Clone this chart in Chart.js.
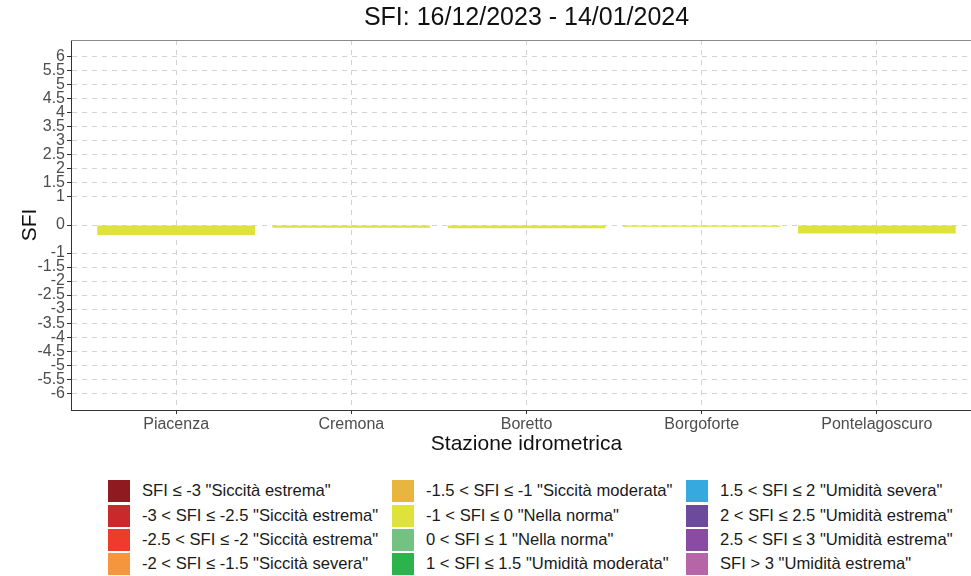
<!DOCTYPE html>
<html><head><meta charset="utf-8">
<script src="https://cdn.jsdelivr.net/npm/chart.js@4"></script>
<style>
html,body{margin:0;padding:0;background:#fff;overflow:hidden;width:971px;height:576px;}
#wrap{position:absolute;left:0;top:0;width:982px;height:462px;}
#legend{position:absolute;left:108px;top:479px;display:grid;grid-auto-flow:column;grid-template-rows:repeat(4,24.4px);grid-template-columns:284px 294px 270px;font-family:"Liberation Sans",Arial,sans-serif;font-size:16.6px;color:#1a1a1a;}
.item{display:flex;align-items:center;white-space:nowrap;}
.sw{width:22px;height:22px;margin-right:12px;flex:none;}
</style></head><body>
<div id="wrap"><canvas id="c" width="982" height="462"></canvas></div>
<div id="legend"></div>
<script>
const titleText = 'SFI: 16/12/2023 - 14/01/2024';
const xAxisTitle = 'Stazione idrometrica';
const yAxisTitle = 'SFI';
const stations = ['Piacenza', 'Cremona', 'Boretto', 'Borgoforte', 'Pontelagoscuro'];
const sfiValues = [-0.36, -0.10, -0.12, -0.06, -0.30];
const yTickValues = [6, 5.5, 5, 4.5, 4, 3.5, 3, 2.5, 2, 1.5, 1, 0, -1, -1.5, -2, -2.5, -3, -3.5, -4, -4.5, -5, -5.5, -6];
const classUpper = [-3, -2.5, -2, -1.5, -1, 0, 1, 1.5, 2, 2.5, 3, Infinity];
const classLabels = [
  'SFI ≤ -3 "Siccità estrema"',
  '-3 < SFI ≤ -2.5 "Siccità estrema"',
  '-2.5 < SFI ≤ -2 "Siccità estrema"',
  '-2 < SFI ≤ -1.5 "Siccità severa"',
  '-1.5 < SFI ≤ -1 "Siccità moderata"',
  '-1 < SFI ≤ 0 "Nella norma"',
  '0 < SFI ≤ 1 "Nella norma"',
  '1 < SFI ≤ 1.5 "Umidità moderata"',
  '1.5 < SFI ≤ 2 "Umidità severa"',
  '2 < SFI ≤ 2.5 "Umidità estrema"',
  '2.5 < SFI ≤ 3 "Umidità estrema"',
  'SFI > 3 "Umidità estrema"'
];
const classColors = ['#8f1a1f', '#c9292b', '#ee3c2c', '#f5963f', '#e8b53f', '#dfe23a', '#74c282', '#2db34b', '#36a9df', '#6c4b9c', '#8a4ba2', '#b565a8'];

const FONT = '"Liberation Sans", Arial, sans-serif';
Chart.defaults.font.family = FONT;

function classOf(v) { return classUpper.findIndex(u => v <= u); }

const legendEl = document.getElementById('legend');
classLabels.forEach((lab, i) => {
  const it = document.createElement('div'); it.className = 'item';
  const sw = document.createElement('span'); sw.className = 'sw'; sw.style.background = classColors[i];
  const tx = document.createElement('span'); tx.textContent = lab;
  it.appendChild(sw); it.appendChild(tx); legendEl.appendChild(it);
});

const panelBorder = {
  id: 'panelBorder',
  afterDraw(chart) {
    const {ctx, chartArea: {left, right, top}} = chart;
    ctx.save(); ctx.strokeStyle = '#8a8a8a'; ctx.lineWidth = 1;
    ctx.beginPath(); ctx.moveTo(left, top + 0.5); ctx.lineTo(right, top + 0.5); ctx.stroke();
    ctx.restore();
  }
};

new Chart(document.getElementById('c'), {
  type: 'bar',
  data: {
    datasets: [{
      data: stations.map((s, i) => ({x: i, y: sfiValues[i]})),
      backgroundColor: sfiValues.map(v => classColors[classOf(v)]),
      borderWidth: 0,
      categoryPercentage: 0.9,
      barPercentage: 1.0
    }]
  },
  options: {
    responsive: false, animation: false,
    layout: {padding: 0},
    plugins: {
      legend: {display: false}, tooltip: {enabled: false},
      title: {display: true, fullSize: false, text: titleText, color: '#111', font: {size: 25, weight: 'normal'}, padding: {top: 3, bottom: 7}}
    },
    scales: {
      x: {
        type: 'linear', min: -0.6, max: 4.6, offset: false,
        afterBuildTicks: s => { s.ticks = stations.map((_, i) => ({value: i})); },
        afterFit: s => { s.height = 52; },
        ticks: {callback: v => stations[v], color: '#4d4d4d', font: {size: 16}, padding: 1, autoSkip: false, maxRotation: 0},
        grid: {offset: false, color: '#d2d2d2', tickColor: '#333', tickLength: 4, tickBorderDash: []},
        border: {color: '#333', width: 1, dash: [5, 5]},
        title: {display: true, text: xAxisTitle, color: '#111', font: {size: 21}, padding: {top: 0, bottom: 5}}
      },
      y: {
        min: -6.6, max: 6.6,
        afterBuildTicks: s => { s.ticks = yTickValues.map(v => ({value: v})); },
        afterFit: s => { s.width = 71; },
        ticks: {callback: v => String(v), color: '#4d4d4d', font: {size: 16}, padding: 2, autoSkip: false},
        grid: {color: '#d2d2d2', tickColor: '#333', tickLength: 4, tickBorderDash: []},
        border: {color: '#333', width: 1, dash: [5, 5]},
        title: {display: true, text: yAxisTitle, color: '#111', font: {size: 21}, padding: {top: 18, bottom: 0}}
      }
    }
  },
  plugins: [panelBorder]
});
</script>
</body></html>
